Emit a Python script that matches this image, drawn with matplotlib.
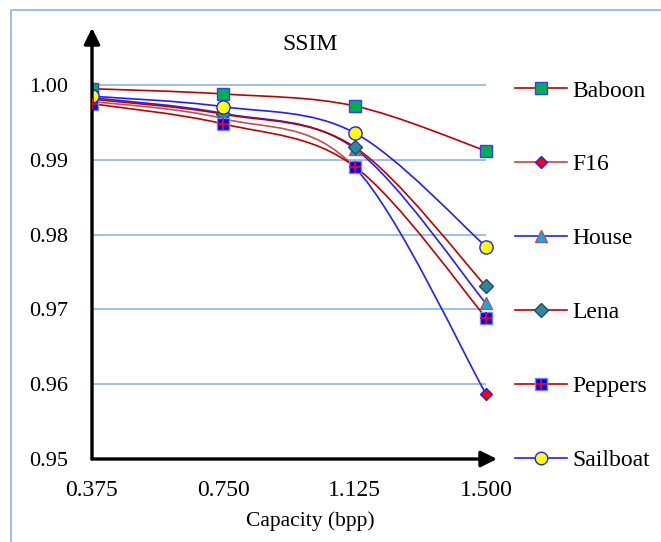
import numpy as np
import matplotlib
matplotlib.use('Agg')
import matplotlib.pyplot as plt
from matplotlib.path import Path
from matplotlib.patches import PathPatch
from matplotlib.lines import Line2D
from matplotlib.legend_handler import HandlerTuple

capacity = [0.375, 0.750, 1.125, 1.500]
xticklabels = ['0.375', '0.750', '1.125', '1.500']
yticks = [0.95, 0.96, 0.97, 0.98, 0.99, 1.00]

baboon = [0.9995, 0.9988, 0.9972, 0.9912]
f16 = [0.9978, 0.9955, 0.9890, 0.9587]
house = [0.9983, 0.9962, 0.9915, 0.9708]
lena = [0.9981, 0.9961, 0.9917, 0.9731]
peppers = [0.9975, 0.9948, 0.9891, 0.9689]
sailboat = [0.9985, 0.9971, 0.9936, 0.9784]

names = ['Baboon', 'F16', 'House', 'Lena', 'Peppers', 'Sailboat']
series = [baboon, f16, house, lena, peppers, sailboat]

RED = '#C00000'
BLUE = '#1F1FFF'
# segment colours, marker, face, edge, size
styles = [
    ([RED, RED, RED], 's', '#00B050', '#3A3AFF', 9.0),
    (['#C0504D', '#C0504D', BLUE], 'D', '#FF0000', '#2020FF', 6.5),
    ([BLUE, BLUE, BLUE], '^', '#00B0F0', '#C0504D', 9.0),
    ([RED, RED, RED], 'D', '#31859C', '#1F4E5F', 7.5),
    ([RED, RED, RED], 's', '#0000FF', '#6A8CFF', 9.0),
    ([BLUE, BLUE, BLUE], 'o', '#FFFF00', '#2020FF', 9.5),
]
legend_colors = [RED, '#D04040', BLUE, RED, RED, BLUE]

plt.rcParams['font.family'] = ['Liberation Serif', 'DejaVu Serif']


def smooth_segments(x, y):
    # excel-like bezier smoothing, one path per segment
    pts = list(zip(x, y))
    n = len(pts)
    segs = []
    for i in range(n - 1):
        p0 = pts[max(i - 1, 0)]
        p1 = pts[i]
        p2 = pts[i + 1]
        p3 = pts[min(i + 2, n - 1)]
        c1 = (p1[0] + (p2[0] - p0[0]) / 6, p1[1] + (p2[1] - p0[1]) / 6)
        c2 = (p2[0] - (p3[0] - p1[0]) / 6, p2[1] - (p3[1] - p1[1]) / 6)
        segs.append(Path([p1, c1, c2, p2],
                         [Path.MOVETO, Path.CURVE4, Path.CURVE4, Path.CURVE4]))
    return segs


fig = plt.figure(figsize=(6.61, 5.42), dpi=100)
ax = fig.add_axes([92 / 661, 1 - 459 / 542, 405 / 661, 431 / 542])
ax.set_xlim(0.375, 0.375 + 405 / 350.2)
ax.set_ylim(0.95, 1.0 + 57 / 7480)

ax.hlines(yticks[1:], capacity[0], capacity[-1], color='#8DB4E2', lw=1.2, zorder=1)

for vals, (cols, mk, fc, ec, ms) in zip(series, styles):
    for seg, c in zip(smooth_segments(capacity, vals), cols):
        ax.add_patch(PathPatch(seg, facecolor='none', edgecolor=c, lw=1.2, zorder=2))

handles = []
for name, vals, lcol, (cols, mk, fc, ec, ms) in zip(names, series, legend_colors, styles):
    ax.plot(capacity, vals, linestyle='none', marker=mk, markerfacecolor=fc,
            markeredgecolor=ec, markersize=ms, markeredgewidth=1.0, zorder=3)
    h = Line2D([], [], color=lcol, lw=1.2, marker=mk, markerfacecolor=fc,
               markeredgecolor=ec, markersize=ms * 0.95, markeredgewidth=1.0)
    if name == 'Peppers':
        ax.plot(capacity, vals, linestyle='none', marker='+', color='#FF0000',
                markersize=ms * 0.9, markeredgewidth=1.3, zorder=4)
        h = (h, Line2D([], [], linestyle='none', marker='+', color='#FF0000',
                       markersize=ms * 0.85, markeredgewidth=1.3))
    handles.append(h)

for s in ax.spines.values():
    s.set_visible(False)
for tip in [(1, 0), (0, 1)]:
    ax.annotate('', xy=tip, xytext=(0, 0), xycoords='axes fraction',
                arrowprops=dict(arrowstyle='-|>', lw=2.4, color='black',
                                mutation_scale=24, shrinkA=0, shrinkB=0))

ax.set_yticks(yticks)
ax.set_yticklabels(['%.2f' % v for v in yticks])
ax.set_xticks(capacity)
ax.set_xticklabels(xticklabels)
ax.tick_params(axis='y', length=0, pad=17, labelsize=16)
ax.tick_params(axis='x', length=0, pad=15, labelsize=17)

fig.text(310 / 661, 1 - 45 / 542, 'SSIM', ha='center', va='center', fontsize=17)
fig.text(310 / 661, 1 - 521 / 542, 'Capacity (bpp)', ha='center', va='center', fontsize=15.5)

fig.legend(handles, names, loc='upper left', bbox_to_anchor=(515 / 661, 1 - 80 / 542),
           frameon=False, fontsize=17, handlelength=2.2, handletextpad=0.25,
           labelspacing=2.22, borderpad=0, borderaxespad=0,
           handler_map={tuple: HandlerTuple(ndivide=1, pad=0)})

# outer frame
fig.add_artist(Line2D([11 / 661, 11 / 661, 1], [0, 1 - 10 / 542, 1 - 10 / 542],
                      transform=fig.transFigure, color='#8DB4E2', lw=1.2))

fig.savefig('out.png', dpi=100)
